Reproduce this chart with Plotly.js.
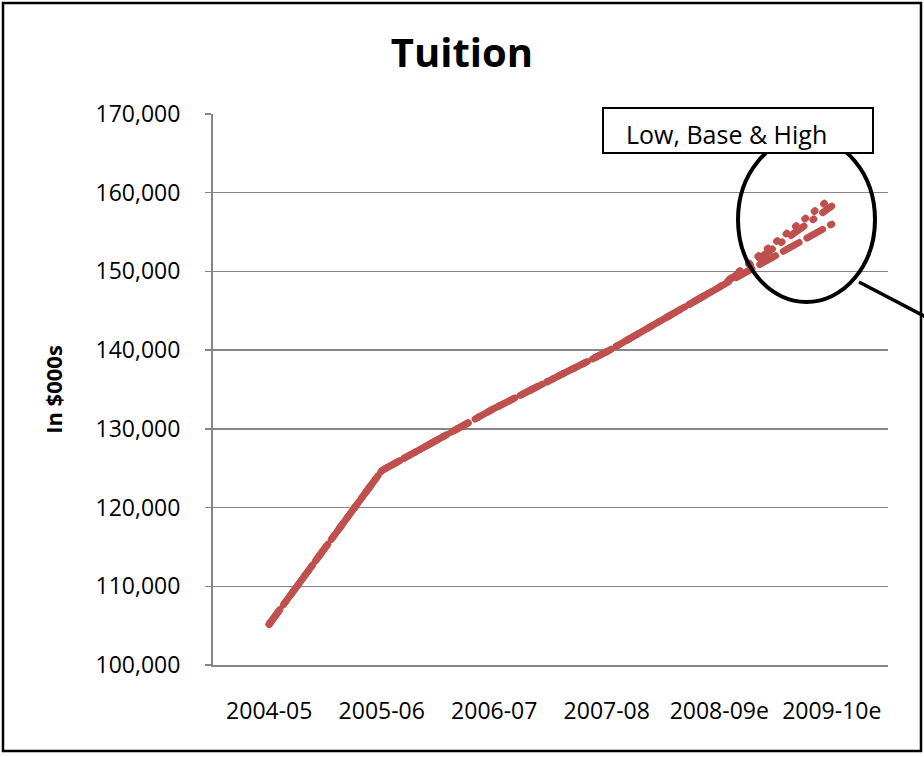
<!DOCTYPE html>
<html>
<head>
<meta charset="utf-8">
<script src="https://cdn.plot.ly/plotly-3.0.1.min.js"></script>
<style>
html,body{margin:0;padding:0;background:#fff;}
#chart{width:924px;height:757px;}
#chart .js-line{stroke-linecap:round !important;}
</style>
</head>
<body>
<div id="chart"></div>
<script>
// Data
const categories = ['2004-05', '2005-06', '2006-07', '2007-08', '2008-09e', '2009-10e'];
const lowValues  = [105200, 124700, 132600, 139800, 148000, 156000];
const baseValues = [105200, 124700, 132600, 139800, 148000, 158300];
const highValues = [105200, 124700, 132600, 139800, 148000, 159400];
const yTickValues = [100000, 110000, 120000, 130000, 140000, 150000, 160000, 170000];
const yTickLabels = ['100,000', '110,000', '120,000', '130,000', '140,000', '150,000', '160,000', '170,000'];

const red = '#C0504D';
const font = 'Open Sans, Liberation Sans, sans-serif';

const traces = [
  {x: categories, y: lowValues, name: 'Low', mode: 'lines',
   line: {color: red, width: 7, dash: '18px,9px'}},
  {x: categories, y: baseValues, name: 'Base', mode: 'lines',
   line: {color: red, width: 7, dash: '16px,11px,1px,11px'}},
  {x: categories, y: highValues, name: 'High', mode: 'lines',
   line: {color: red, width: 7, dash: '1px,11px'}}
];

// plot area: x 213..888, y 114..665
const L = 213, R = 888, T = 114, B = 665;
const px = v => (v - L) / (R - L);
const py = v => (B - v) / (B - T);

const layout = {
  width: 924, height: 757,
  margin: {l: L, r: 924 - R, t: T, b: 757 - B},
  paper_bgcolor: '#fff', plot_bgcolor: '#fff',
  showlegend: false,
  font: {family: font, color: '#000'},
  title: {text: '<b>Tuition</b>', font: {family: font, size: 40, color: '#000'},
          x: 462 / 924, xref: 'container', xanchor: 'center', y: 1 - 53 / 757, yref: 'container', yanchor: 'middle'},
  xaxis: {
    type: 'category', range: [-0.5, 5.5], automargin: false,
    showgrid: false, zeroline: false,
    showline: true, linecolor: '#868686', linewidth: 2,
    ticks: '', ticklabelstandoff: 24,
    tickfont: {family: font, size: 23, color: '#000'}
  },
  yaxis: {
    range: [100000, 170000], automargin: false,
    tickvals: yTickValues, ticktext: yTickLabels,
    showgrid: true, gridcolor: '#868686', gridwidth: 1.5,
    zeroline: false, showline: true, linecolor: '#868686', linewidth: 2,
    ticks: 'outside', ticklen: 6, tickcolor: '#868686', tickwidth: 1.5,
    ticklabelstandoff: 20,
    tickfont: {family: font, size: 23, color: '#000'},
    title: {text: '<b>In $000s</b>', font: {family: font, size: 22, color: '#000'}, standoff: 27}
  },
  shapes: [
    // outer chart border
    {type: 'rect', xref: 'paper', yref: 'paper', x0: px(3), x1: px(921), y0: py(751), y1: py(3),
     line: {color: '#000', width: 2.5}, fillcolor: 'rgba(0,0,0,0)', layer: 'above'},
    // circle highlight
    {type: 'circle', xref: 'paper', yref: 'paper', x0: px(738), x1: px(875), y0: py(302), y1: py(137),
     line: {color: '#000', width: 4}, layer: 'above'},
    // pointer line
    {type: 'line', xref: 'paper', yref: 'paper', x0: px(859), y0: py(282), x1: px(926), y1: py(317),
     line: {color: '#000', width: 3.5}, layer: 'above'},
    // text box
    {type: 'rect', xref: 'paper', yref: 'paper', x0: px(603), x1: px(873), y0: py(153), y1: py(108),
     line: {color: '#000', width: 2}, fillcolor: '#fff', layer: 'above'}
  ],
  annotations: [
    {text: 'Low, Base &amp; High', xref: 'paper', yref: 'paper', x: px(726), y: py(134),
     xanchor: 'center', yanchor: 'middle', showarrow: false,
     font: {family: font, size: 25, color: '#000'}}
  ]
};

Plotly.newPlot('chart', traces, layout, {displayModeBar: false, staticPlot: true});
</script>
</body>
</html>
